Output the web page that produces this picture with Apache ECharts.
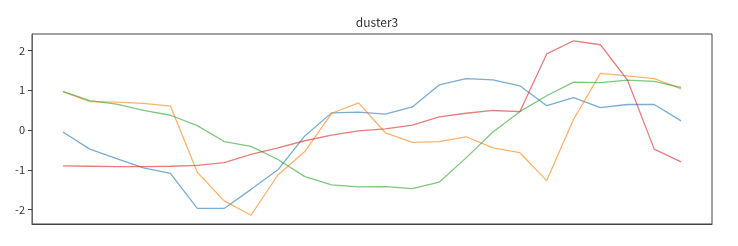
<!DOCTYPE html>
<html>
<head>
<meta charset="utf-8">
<script src="https://cdn.jsdelivr.net/npm/echarts@6/dist/echarts.min.js"></script>
<style>html,body{margin:0;padding:0;background:#fff}#c{width:738px;height:246px}</style>
</head>
<body>
<div id="c"></div>
<script>
const title = 'duster3';
const yTicks = [-2, -1, 0, 1, 2];
const blue = [-0.05, -0.48, -0.72, -0.95, -1.09, -1.97, -1.97, -1.49, -1.0, -0.15, 0.43, 0.45, 0.40, 0.58, 1.13, 1.29, 1.26, 1.11, 0.61, 0.81, 0.56, 0.64, 0.64, 0.23];
const orange = [0.96, 0.71, 0.70, 0.67, 0.60, -1.06, -1.78, -2.14, -1.13, -0.54, 0.42, 0.68, -0.07, -0.31, -0.29, -0.17, -0.45, -0.57, -1.27, 0.27, 1.42, 1.36, 1.29, 1.03];
const green = [0.97, 0.74, 0.65, 0.49, 0.37, 0.11, -0.29, -0.41, -0.74, -1.17, -1.38, -1.43, -1.42, -1.47, -1.31, -0.70, -0.05, 0.46, 0.86, 1.20, 1.19, 1.25, 1.22, 1.07];
const red = [-0.90, -0.91, -0.92, -0.92, -0.91, -0.89, -0.82, -0.61, -0.45, -0.27, -0.13, -0.02, 0.03, 0.12, 0.33, 0.42, 0.49, 0.46, 1.91, 2.24, 2.14, 1.26, -0.48, -0.80];

const seriesDefs = [
  {name: 'blue', data: blue, color: 'rgba(31,119,180,0.6)'},
  {name: 'orange', data: orange, color: 'rgba(255,127,14,0.6)'},
  {name: 'green', data: green, color: 'rgba(44,160,44,0.6)'},
  {name: 'red', data: red, color: 'rgba(214,39,40,0.6)'}
];
const n = blue.length;
const pad = (n - 1) * 0.05;
const font = '"Noto Sans CJK KR", "DejaVu Sans", sans-serif';

const chart = echarts.init(document.getElementById('c'));
chart.setOption({
  animation: false,
  title: {
    text: title, left: 372, top: 11, textAlign: 'center',
    textStyle: {fontFamily: font, fontSize: 12, fontWeight: 'normal', color: '#333'}
  },
  grid: {left: 32, right: 26, top: 34, bottom: 22, show: true, borderColor: '#444', borderWidth: 1, containLabel: false},
  xAxis: {
    type: 'value', min: -pad, max: n - 1 + pad,
    axisLine: {show: true, onZero: false, lineStyle: {color: '#444'}},
    axisTick: {show: false}, axisLabel: {show: false}, splitLine: {show: false}
  },
  yAxis: {
    type: 'value', min: -2.36, max: 2.41,
    axisLine: {show: true, onZero: false, lineStyle: {color: '#666'}},
    axisTick: {show: true, length: 4, customValues: yTicks, lineStyle: {color: '#444'}},
    axisLabel: {customValues: yTicks, margin: 7, fontFamily: font, fontSize: 11, color: '#333'},
    splitLine: {show: false}
  },
  series: seriesDefs.map(s => ({
    type: 'line', name: s.name,
    data: s.data.map((v, i) => [i, v]),
    showSymbol: false, symbol: 'none',
    lineStyle: {color: s.color, width: 1.3},
    itemStyle: {color: s.color}
  }))
});
</script>
</body>
</html>
